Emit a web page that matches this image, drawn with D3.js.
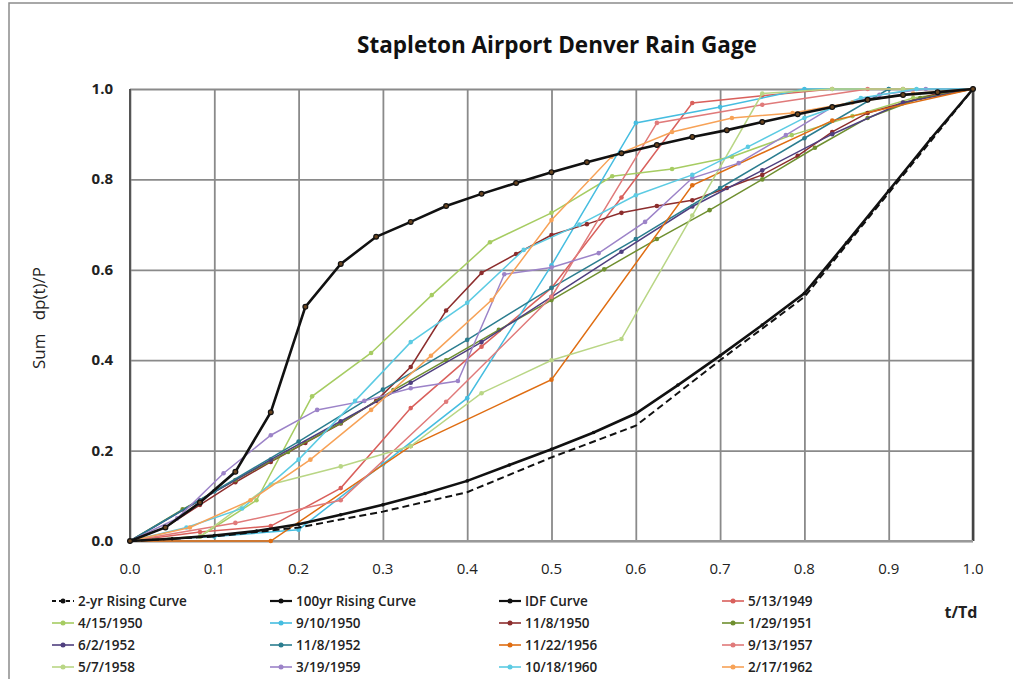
<!DOCTYPE html>
<html>
<head>
<meta charset="utf-8">
<script src="https://cdn.jsdelivr.net/npm/d3@7"></script>
<style>
  body { margin: 0; background: #fff; }
  text { font-family: "Open Sans", Lato, sans-serif; white-space: pre; }
</style>
</head>
<body>
<div id="chart"></div>
<script>
// t/Td vs cumulative fraction
const twoYr = [[0,0],[0.1,0.01],[0.2,0.03],[0.3,0.065],[0.4,0.108],[0.5,0.185],[0.6,0.255],[0.7,0.4],[0.8,0.54],[0.9,0.77],[1,1]];
const hundredYr = [[0,0],[0.042,0.03],[0.083,0.085],[0.125,0.153],[0.167,0.285],[0.208,0.518],[0.25,0.613],[0.292,0.673],[0.333,0.706],[0.375,0.741],[0.417,0.768],[0.458,0.792],[0.5,0.816],[0.542,0.838],[0.583,0.858],[0.625,0.876],[0.667,0.894],[0.708,0.909],[0.75,0.927],[0.792,0.944],[0.833,0.96],[0.875,0.976],[0.917,0.987],[0.958,0.993],[1,1]];
const idf = [[0,0],[0.05,0.005],[0.1,0.012],[0.15,0.022],[0.2,0.037],[0.25,0.058],[0.3,0.08],[0.35,0.105],[0.4,0.133],[0.45,0.168],[0.5,0.203],[0.55,0.24],[0.6,0.282],[0.65,0.345],[0.7,0.41],[0.75,0.478],[0.8,0.548],[0.85,0.66],[0.9,0.775],[0.95,0.89],[1,1]];

const may1949 = [[0,0],[0.083,0.02],[0.167,0.033],[0.25,0.117],[0.333,0.294],[0.417,0.43],[0.5,0.56],[0.583,0.76],[0.667,0.969],[0.75,0.985],[0.833,1],[0.917,1],[1,1]];
const apr1950 = [[0,0],[0.083,0.01],[0.15,0.09],[0.216,0.32],[0.286,0.416],[0.358,0.544],[0.427,0.661],[0.5,0.726],[0.572,0.807],[0.643,0.823],[0.714,0.85],[0.785,0.898],[0.857,0.94],[0.929,0.98],[1,1]];
const sep1950 = [[0,0],[0.1,0.01],[0.2,0.025],[0.3,0.17],[0.4,0.316],[0.5,0.61],[0.6,0.925],[0.7,0.96],[0.8,1],[0.9,1],[1,1]];
const nov1950 = [[0,0],[0.042,0.03],[0.083,0.08],[0.125,0.13],[0.167,0.175],[0.208,0.217],[0.25,0.26],[0.292,0.31],[0.333,0.385],[0.375,0.51],[0.417,0.593],[0.458,0.635],[0.5,0.677],[0.542,0.701],[0.583,0.726],[0.625,0.741],[0.667,0.754],[0.708,0.781],[0.75,0.81],[0.792,0.852],[0.833,0.905],[0.875,0.947],[0.917,0.969],[0.958,0.99],[1,1]];
const jan1951 = [[0,0],[0.0625,0.07],[0.125,0.135],[0.1875,0.197],[0.25,0.261],[0.3125,0.334],[0.375,0.4],[0.4375,0.467],[0.5,0.533],[0.5625,0.601],[0.625,0.668],[0.6875,0.732],[0.75,0.8],[0.8125,0.87],[0.875,0.936],[0.9375,0.98],[1,1]];
const jun1952 = [[0,0],[0.083,0.09],[0.167,0.18],[0.25,0.265],[0.333,0.35],[0.417,0.44],[0.5,0.54],[0.583,0.64],[0.667,0.74],[0.75,0.82],[0.833,0.9],[0.917,0.97],[1,1]];
const nov1952 = [[0,0],[0.1,0.11],[0.2,0.22],[0.3,0.335],[0.4,0.445],[0.5,0.56],[0.6,0.668],[0.7,0.781],[0.8,0.891],[0.9,1],[1,1]];
const nov1956 = [[0,0],[0.167,0],[0.333,0.21],[0.5,0.357],[0.667,0.787],[0.833,0.93],[1,1]];
const sep1957 = [[0,0],[0.125,0.04],[0.25,0.09],[0.375,0.308],[0.5,0.54],[0.625,0.925],[0.75,0.965],[0.875,1],[1,1]];
const may1958 = [[0,0],[0.083,0.01],[0.167,0.125],[0.25,0.165],[0.333,0.21],[0.417,0.327],[0.5,0.4],[0.583,0.447],[0.667,0.72],[0.75,0.99],[0.833,1],[0.917,1],[1,1]];
const mar1959 = [[0,0],[0.056,0.05],[0.111,0.15],[0.167,0.234],[0.222,0.29],[0.278,0.31],[0.333,0.338],[0.389,0.354],[0.444,0.59],[0.5,0.605],[0.556,0.637],[0.611,0.706],[0.667,0.803],[0.722,0.836],[0.778,0.898],[0.833,0.96],[0.889,0.987],[0.944,1],[1,1]];
const oct1960 = [[0,0],[0.067,0.03],[0.133,0.072],[0.2,0.18],[0.267,0.31],[0.333,0.44],[0.4,0.527],[0.467,0.644],[0.533,0.7],[0.6,0.765],[0.667,0.81],[0.733,0.872],[0.8,0.936],[0.867,0.98],[0.933,1],[1,1]];
const feb1962 = [[0,0],[0.071,0.03],[0.143,0.09],[0.214,0.18],[0.286,0.29],[0.357,0.41],[0.429,0.533],[0.5,0.71],[0.571,0.85],[0.643,0.905],[0.714,0.936],[0.786,0.947],[0.857,0.97],[0.929,0.99],[1,1]];

const storms = [
  ["5/13/1949", may1949, "#d9605c"],
  ["4/15/1950", apr1950, "#a6cc62"],
  ["9/10/1950", sep1950, "#45bde0"],
  ["11/8/1950", nov1950, "#8c2d2d"],
  ["1/29/1951", jan1951, "#6f8f2f"],
  ["6/2/1952", jun1952, "#4f3f7f"],
  ["11/8/1952", nov1952, "#2b7d8f"],
  ["11/22/1956", nov1956, "#df6d12"],
  ["9/13/1957", sep1957, "#e07a7a"],
  ["5/7/1958", may1958, "#b9d685"],
  ["3/19/1959", mar1959, "#9c83c8"],
  ["10/18/1960", oct1960, "#5ccbe3"],
  ["2/17/1962", feb1962, "#f7a257"]
];

const xTicks = [0, 0.1, 0.2, 0.3, 0.4, 0.5, 0.6, 0.7, 0.8, 0.9, 1.0];
const yTicks = [0, 0.2, 0.4, 0.6, 0.8, 1.0];

const width = 1013, height = 679;

const svg = d3.select("#chart").append("svg")
  .attr("width", width)
  .attr("height", height);

// outer frame
svg.append("rect")
  .attr("x", 9).attr("y", 3)
  .attr("width", 1010).attr("height", 700)
  .attr("fill", "none")
  .attr("stroke", "#8c8c8c")
  .attr("stroke-width", 1.5);

const x = d3.scaleLinear().domain([0, 1]).range([130, 973]);
const y = d3.scaleLinear().domain([0, 1]).range([541, 89]);

// grid
svg.append("g")
  .attr("transform", "translate(0,541)")
  .call(d3.axisBottom(x).tickValues(xTicks).tickSize(-452).tickFormat(""))
  .call(g => g.select(".domain").remove())
  .call(g => g.selectAll("line").attr("stroke", "#8a8a8a").attr("stroke-width", 1.8));

svg.append("g")
  .attr("transform", "translate(130,0)")
  .call(d3.axisLeft(y).tickValues(yTicks).tickSize(-843).tickFormat(""))
  .call(g => g.select(".domain").remove())
  .call(g => g.selectAll("line").attr("stroke", "#8a8a8a").attr("stroke-width", 1.8));

// frame edges of plot
svg.append("line").attr("x1", 130).attr("x2", 130).attr("y1", 89).attr("y2", 541)
  .attr("stroke", "#555").attr("stroke-width", 2);
svg.append("line").attr("x1", 973).attr("x2", 973).attr("y1", 89).attr("y2", 541)
  .attr("stroke", "#444").attr("stroke-width", 2.5);
svg.append("line").attr("x1", 130).attr("x2", 973).attr("y1", 541).attr("y2", 541)
  .attr("stroke", "#999").attr("stroke-width", 2);

// tick labels
svg.append("g").selectAll("text")
  .data(yTicks).enter().append("text")
  .attr("x", 113).attr("y", d => y(d) + 5)
  .attr("text-anchor", "end")
  .attr("font-size", 15).attr("font-weight", "bold").attr("fill", "#222")
  .text(d => d.toFixed(1));

svg.append("g").selectAll("text")
  .data(xTicks).enter().append("text")
  .attr("x", d => x(d)).attr("y", 574)
  .attr("text-anchor", "middle")
  .attr("font-size", 15).attr("fill", "#222")
  .text(d => d.toFixed(1));

const line = d3.line().x(d => x(d[0])).y(d => y(d[1]));

// storm curves
storms.forEach(([name, pts, col]) => {
  svg.append("path").datum(pts)
    .attr("fill", "none").attr("stroke", col).attr("stroke-width", 1.5)
    .attr("d", line);
  svg.append("g").selectAll("circle").data(pts).enter().append("circle")
    .attr("cx", d => x(d[0])).attr("cy", d => y(d[1])).attr("r", 2.3)
    .attr("fill", col);
});

// design curves
svg.append("path").datum(twoYr)
  .attr("fill", "none").attr("stroke", "#111").attr("stroke-width", 2)
  .attr("stroke-dasharray", "7,4").attr("d", line);
svg.append("path").datum(idf)
  .attr("fill", "none").attr("stroke", "#111").attr("stroke-width", 2.6)
  .attr("d", line);
svg.append("g").selectAll("circle").data(idf).enter().append("circle")
  .attr("cx", d => x(d[0])).attr("cy", d => y(d[1])).attr("r", 1.8).attr("fill", "#111");
svg.append("path").datum(hundredYr)
  .attr("fill", "none").attr("stroke", "#111").attr("stroke-width", 2.6)
  .attr("d", line);
svg.append("g").selectAll("circle").data(hundredYr).enter().append("circle")
  .attr("cx", d => x(d[0])).attr("cy", d => y(d[1])).attr("r", 2.4)
  .attr("fill", "#6a4520").attr("stroke", "#111").attr("stroke-width", 1.2);

// title and axis labels
svg.append("text")
  .attr("x", 557).attr("y", 53)
  .attr("text-anchor", "middle")
  .attr("font-size", 22.5).attr("font-weight", "bold").attr("fill", "#111")
  .text("Stapleton Airport Denver Rain Gage");

svg.append("text")
  .attr("transform", "translate(45,318) rotate(-90)")
  .attr("text-anchor", "middle")
  .attr("font-size", 17).attr("fill", "#222")
  .text("Sum   dp(t)/P");

svg.append("text")
  .attr("x", 961).attr("y", 618)
  .attr("text-anchor", "middle")
  .attr("font-size", 16).attr("font-weight", "bold").attr("fill", "#222")
  .text("t/Td");

// legend
const legendItems = [
  ["2-yr Rising Curve", "#111", "dash"],
  ["100yr Rising Curve", "#111", "solid"],
  ["IDF Curve", "#111", "solid"]
].concat(storms.map(s => [s[0], s[2], "storm"]));

const colX = [52, 270, 499, 722];
const rowY = [601, 623, 645, 667];

const leg = svg.append("g").selectAll("g")
  .data(legendItems).enter().append("g")
  .attr("transform", (d, i) => `translate(${colX[i % 4]},${rowY[Math.floor(i / 4)]})`);

leg.append("line")
  .attr("x1", 0).attr("x2", 22).attr("y1", 0).attr("y2", 0)
  .attr("stroke", d => d[1])
  .attr("stroke-width", d => d[2] === "storm" ? 1.6 : 2.2)
  .attr("stroke-dasharray", d => d[2] === "dash" ? "4,3" : null);

leg.append("circle")
  .attr("cx", 11).attr("cy", 0).attr("r", 2.5)
  .attr("fill", d => d[1]);

leg.append("text")
  .attr("x", 26).attr("y", 4.5)
  .attr("font-size", 13.5).attr("font-weight", 600).attr("fill", "#222")
  .text(d => d[0]);
</script>
</body>
</html>
